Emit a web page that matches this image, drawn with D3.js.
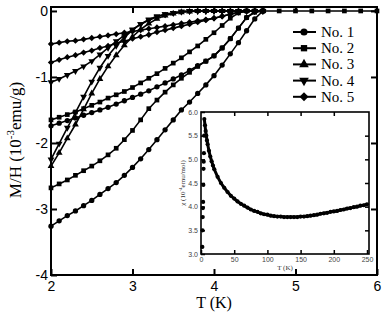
<html>
<head>
    <title>M/H vs T</title>
    <script src="https://d3js.org/d3.v7.min.js"></script>
    <style>
        body { margin: 0; background-color: white; }
    </style>
</head>
<body>
    <div id="chart"></div>
    <script>
        // temperatures (K) shared by the main curves, 0.1 K steps
        var temps = [2.0, 2.1, 2.2, 2.3, 2.4, 2.5, 2.6, 2.7, 2.8, 2.9, 3.0, 3.1, 3.2, 3.3, 3.4,
                     3.5, 3.6, 3.7, 3.8, 3.9, 4.0, 4.1, 4.2, 4.3, 4.4, 4.5, 4.6];

        // M/H (10^-3 emu/g); once a curve reaches zero it stays on the zero line
        var no1_a = [-3.26, -3.18, -3.10, -3.03, -2.95, -2.87, -2.78, -2.69, -2.60, -2.49, -2.37, -2.24, -2.10, -1.95,
                     -1.80, -1.65, -1.50, -1.38, -1.25, -1.12, -0.98, -0.82, -0.65, -0.48, -0.30, -0.12, 0];
        var no1_b = [-1.74, -1.70, -1.66, -1.62, -1.58, -1.54, -1.50, -1.46, -1.41, -1.36, -1.31, -1.26, -1.21, -1.15,
                     -1.09, -1.03, -0.97, -0.90, -0.83, -0.76, -0.68, -0.56, -0.42, -0.26, -0.10, -0.01, 0];
        var no2_a = [-2.68, -2.62, -2.56, -2.49, -2.42, -2.35, -2.27, -2.18, -2.08, -1.95, -1.81, -1.65, -1.48, -1.35,
                     -1.23, -1.12, -1.02, -0.93, -0.84, -0.76, -0.68, -0.56, -0.42, -0.26, -0.10, -0.02, 0];
        var no2_b = [-1.65, -1.61, -1.57, -1.53, -1.48, -1.43, -1.38, -1.32, -1.27, -1.22, -1.16, -1.09, -1.02, -0.95,
                     -0.87, -0.79, -0.71, -0.62, -0.53, -0.43, -0.33, -0.22, -0.11, -0.03, 0, 0, 0];
        var no3   = [-2.35, -2.15, -1.93, -1.72, -1.49, -1.25, -1.03, -0.84, -0.67, -0.52, -0.39, -0.28, -0.19, -0.12,
                     -0.07, -0.04, -0.02, -0.01, 0, 0, 0, 0, 0, 0, 0, 0, 0];
        var no4_a = [-2.25, -2.01, -1.77, -1.54, -1.30, -1.07, -0.86, -0.68, -0.53, -0.40, -0.29, -0.20, -0.13, -0.08,
                     -0.05, -0.03, -0.01, 0, 0, 0, 0, 0, 0, 0, 0, 0, 0];
        var no4_b = [-1.08, -1.03, -0.97, -0.91, -0.84, -0.76, -0.66, -0.56, -0.46, -0.37, -0.28, -0.20, -0.14, -0.09,
                     -0.05, -0.03, -0.01, 0, 0, 0, 0, 0, 0, 0, 0, 0, 0];
        var no5_a = [-0.78, -0.74, -0.70, -0.67, -0.63, -0.60, -0.56, -0.53, -0.49, -0.46, -0.42, -0.39, -0.36, -0.32,
                     -0.29, -0.26, -0.23, -0.20, -0.17, -0.14, -0.11, -0.08, -0.05, -0.02, 0, 0, 0];
        var no5_b = [-0.50, -0.48, -0.46, -0.45, -0.43, -0.41, -0.39, -0.37, -0.35, -0.33, -0.31, -0.29, -0.27, -0.25,
                     -0.23, -0.21, -0.19, -0.17, -0.15, -0.13, -0.11, -0.08, -0.05, -0.02, 0, 0, 0];

        // flat part of No. 2 above Tc
        var plateau_T   = [4.8, 5.0, 5.2, 5.4, 5.6, 5.8, 6.0];
        var plateau_no2 = [0, 0, 0, 0, 0, 0, 0];

        var legend_names = ["No. 1", "No. 2", "No. 3", "No. 4", "No. 5"];
        var x_ticks = [2, 3, 4, 5, 6];
        var y_ticks = [0, -1, -2, -3, -4];

        // inset: chi (10^-4 emu/mol) vs T (K)
        var chi_low_T   = [2.0, 2.3, 2.6, 2.9, 3.2, 3.5, 3.8, 4.1, 4.4, 4.7];
        var chi_low_val = [3.15, 3.50, 3.78, 3.97, 4.10, 4.46, 4.80, 4.95, 5.13, 5.50];
        var chi_T   = [5, 6, 7, 8, 9, 10, 12, 14, 16, 18, 20, 25, 30, 35, 40, 45, 50, 55, 60, 65, 70, 75, 80, 85,
                       90, 95, 100, 105, 110, 115, 120, 125, 130, 135, 140, 145, 150, 155, 160, 165, 170, 175,
                       180, 185, 190, 195, 200, 205, 210, 215, 220, 225, 230, 235, 240, 245, 250];
        var chi_val = [5.85, 5.72, 5.60, 5.50, 5.40, 5.32, 5.18, 5.06, 4.96, 4.87, 4.79, 4.63, 4.50, 4.40, 4.31,
                       4.23, 4.17, 4.11, 4.06, 4.02, 3.98, 3.94, 3.91, 3.89, 3.86, 3.84, 3.83, 3.81, 3.80, 3.79,
                       3.79, 3.78, 3.78, 3.78, 3.78, 3.78, 3.79, 3.79, 3.80, 3.81, 3.82, 3.83, 3.85, 3.86, 3.87,
                       3.89, 3.90, 3.91, 3.93, 3.94, 3.96, 3.97, 3.99, 4.00, 4.02, 4.03, 4.05];
        var inset_x_ticks = [0, 50, 100, 150, 200, 250];
        var inset_y_ticks = [3.0, 3.5, 4.0, 4.5, 5.0, 5.5, 6.0];

        var sans = "'Liberation Sans', Arial, sans-serif";
        var serif = "'Liberation Serif', 'Times New Roman', serif";

        var svg = d3.select("#chart").append("svg")
                    .attr("width", 382)
                    .attr("height", 319);

        var x = d3.scaleLinear().domain([2, 6]).range([51, 377]);
        var y = d3.scaleLinear().domain([-4, 0.06]).range([275, 7]);

        function marker_path(kind, size)
        {
            if(kind == "circle") return d3.symbol(d3.symbolCircle, size)();
            if(kind == "square" || kind == "diamond") return d3.symbol(d3.symbolSquare, size)();
            return d3.symbol(d3.symbolTriangle, size)();
        }

        function marker_rot(kind)
        {
            if(kind == "down") return " rotate(180)";
            if(kind == "diamond") return " rotate(45)";
            return "";
        }

        var marker_size = {circle: 22, square: 22, up: 20, down: 20, diamond: 20};

        var curves = [
            {T: temps, v: no1_a, kind: "circle"},
            {T: temps, v: no1_b, kind: "circle"},
            {T: temps.concat(plateau_T), v: no2_a.concat(plateau_no2), kind: "square"},
            {T: temps, v: no2_b, kind: "square"},
            {T: temps, v: no3, kind: "up"},
            {T: temps, v: no4_a, kind: "down"},
            {T: temps, v: no4_b, kind: "down"},
            {T: temps, v: no5_a, kind: "diamond"},
            {T: temps, v: no5_b, kind: "diamond"}
        ];

        var line = d3.line().x(function(d){ return x(d[0]); }).y(function(d){ return y(d[1]); });

        function draw_curve(c)
        {
            var pts = c.v.map(function(v, i){ return [c.T[i], v]; });
            svg.append("path")
               .attr("d", line(pts))
               .attr("fill", "none")
               .attr("stroke", "black")
               .attr("stroke-width", 1.6);
            svg.append("g").selectAll("path").data(pts).enter().append("path")
               .attr("d", marker_path(c.kind, marker_size[c.kind]))
               .attr("transform", function(d){ return "translate(" + x(d[0]) + "," + y(d[1]) + ")" + marker_rot(c.kind); })
               .attr("fill", "black");
        }

        curves.forEach(draw_curve);

        // ---- main axes, ticks point inward
        function style_axis(g, size)
        {
            g.select(".domain").remove();
            g.selectAll("line").attr("stroke", "black").attr("stroke-width", 2);
            g.selectAll("text").attr("font-family", sans).attr("font-size", size).attr("fill", "black");
        }

        svg.append("g").attr("transform", "translate(0,275)")
           .call(d3.axisBottom(x).tickValues(x_ticks).tickSize(-6).tickPadding(6).tickFormat(d3.format("d")))
           .call(style_axis, 14);
        svg.append("g").attr("transform", "translate(0,7)")
           .call(d3.axisTop(x).tickValues([3, 4, 5]).tickSize(-6).tickFormat(""))
           .call(style_axis, 14);
        svg.append("g").attr("transform", "translate(51,0)")
           .call(d3.axisLeft(y).tickValues(y_ticks).tickSize(-6).tickPadding(3).tickFormat(function(d){ return String(d); }))
           .call(style_axis, 14);
        svg.append("g").attr("transform", "translate(377,0)")
           .call(d3.axisRight(y).tickValues([0, -1, -2, -3]).tickSize(-6).tickFormat(""))
           .call(style_axis, 14);

        svg.append("rect")
           .attr("x", 51).attr("y", 7).attr("width", 326).attr("height", 268)
           .attr("fill", "none").attr("stroke", "black").attr("stroke-width", 2);

        svg.append("text")
           .attr("x", 214).attr("y", 308)
           .attr("text-anchor", "middle")
           .attr("font-family", serif).attr("font-size", 16)
           .text("T (K)");

        var ytitle = svg.append("text")
           .attr("transform", "translate(21,140) rotate(-90)")
           .attr("text-anchor", "middle")
           .attr("font-family", serif).attr("font-size", 17);
        ytitle.append("tspan").text("M/H (10");
        ytitle.append("tspan").attr("font-size", 11).attr("dy", -7).text("-3");
        ytitle.append("tspan").attr("dy", 7).text("emu/g)");

        // ---- legend
        var legend_kinds = ["circle", "square", "up", "down", "diamond"];
        legend_names.forEach(function(name, i){
            var ly = 32 + i * 16.2;
            svg.append("line").attr("x1", 293).attr("x2", 316).attr("y1", ly).attr("y2", ly)
               .attr("stroke", "black").attr("stroke-width", 2);
            svg.append("path")
               .attr("d", marker_path(legend_kinds[i], 40))
               .attr("transform", "translate(304," + ly + ")" + marker_rot(legend_kinds[i]))
               .attr("fill", "black");
            svg.append("text").attr("x", 321).attr("y", ly + 5)
               .attr("font-family", serif).attr("font-size", 15)
               .text(name);
        });

        // ---- inset
        var ix = d3.scaleLinear().domain([0, 253]).range([201, 369]);
        var iy = d3.scaleLinear().domain([3, 6]).range([254, 112]);

        svg.append("rect").attr("x", 201).attr("y", 112).attr("width", 168).attr("height", 142)
           .attr("fill", "white");

        var chi_pts = chi_val.map(function(v, i){ return [chi_T[i], v]; });
        var chi_low = chi_low_val.map(function(v, i){ return [chi_low_T[i], v]; });

        svg.append("path")
           .attr("d", d3.line().x(function(d){ return ix(d[0]); }).y(function(d){ return iy(d[1]); })(chi_pts))
           .attr("fill", "none").attr("stroke", "black").attr("stroke-width", 3);
        svg.append("g").selectAll("circle").data(chi_pts.concat(chi_low)).enter().append("circle")
           .attr("cx", function(d){ return ix(d[0]); })
           .attr("cy", function(d){ return iy(d[1]); })
           .attr("r", 2.1)
           .attr("fill", "black");

        function style_inset(g)
        {
            g.select(".domain").remove();
            g.selectAll("line").attr("stroke", "black").attr("stroke-width", 1.5);
            g.selectAll("text").attr("font-family", sans).attr("font-size", 7).attr("fill", "#444");
        }

        svg.append("g").attr("transform", "translate(0,254)")
           .call(d3.axisBottom(ix).tickValues(inset_x_ticks).tickSize(-4).tickPadding(3))
           .call(style_inset);
        svg.append("g").attr("transform", "translate(0,112)")
           .call(d3.axisTop(ix).tickValues([50, 100, 150, 200]).tickSize(-4).tickFormat(""))
           .call(style_inset);
        svg.append("g").attr("transform", "translate(201,0)")
           .call(d3.axisLeft(iy).tickValues(inset_y_ticks).tickSize(-4).tickPadding(3).tickFormat(d3.format(".1f")))
           .call(style_inset);
        svg.append("g").attr("transform", "translate(369,0)")
           .call(d3.axisRight(iy).tickValues([3.5, 4.0, 4.5, 5.0, 5.5]).tickSize(-4).tickFormat(""))
           .call(style_inset);

        svg.append("rect").attr("x", 201).attr("y", 112).attr("width", 168).attr("height", 142)
           .attr("fill", "none").attr("stroke", "black").attr("stroke-width", 1.6);

        svg.append("text")
           .attr("x", 285).attr("y", 270)
           .attr("text-anchor", "middle")
           .attr("font-family", serif).attr("font-size", 7).attr("fill", "#333")
           .text("T (K)");

        var ititle = svg.append("text")
           .attr("transform", "translate(185,183) rotate(-90)")
           .attr("text-anchor", "middle")
           .attr("font-family", serif).attr("font-size", 7).attr("fill", "#333");
        ititle.append("tspan").text("\u03c7 (10");
        ititle.append("tspan").attr("font-size", 5).attr("dy", -3).text("-4");
        ititle.append("tspan").attr("dy", 3).text("emu/mol)");
    </script>
</body>
</html>
